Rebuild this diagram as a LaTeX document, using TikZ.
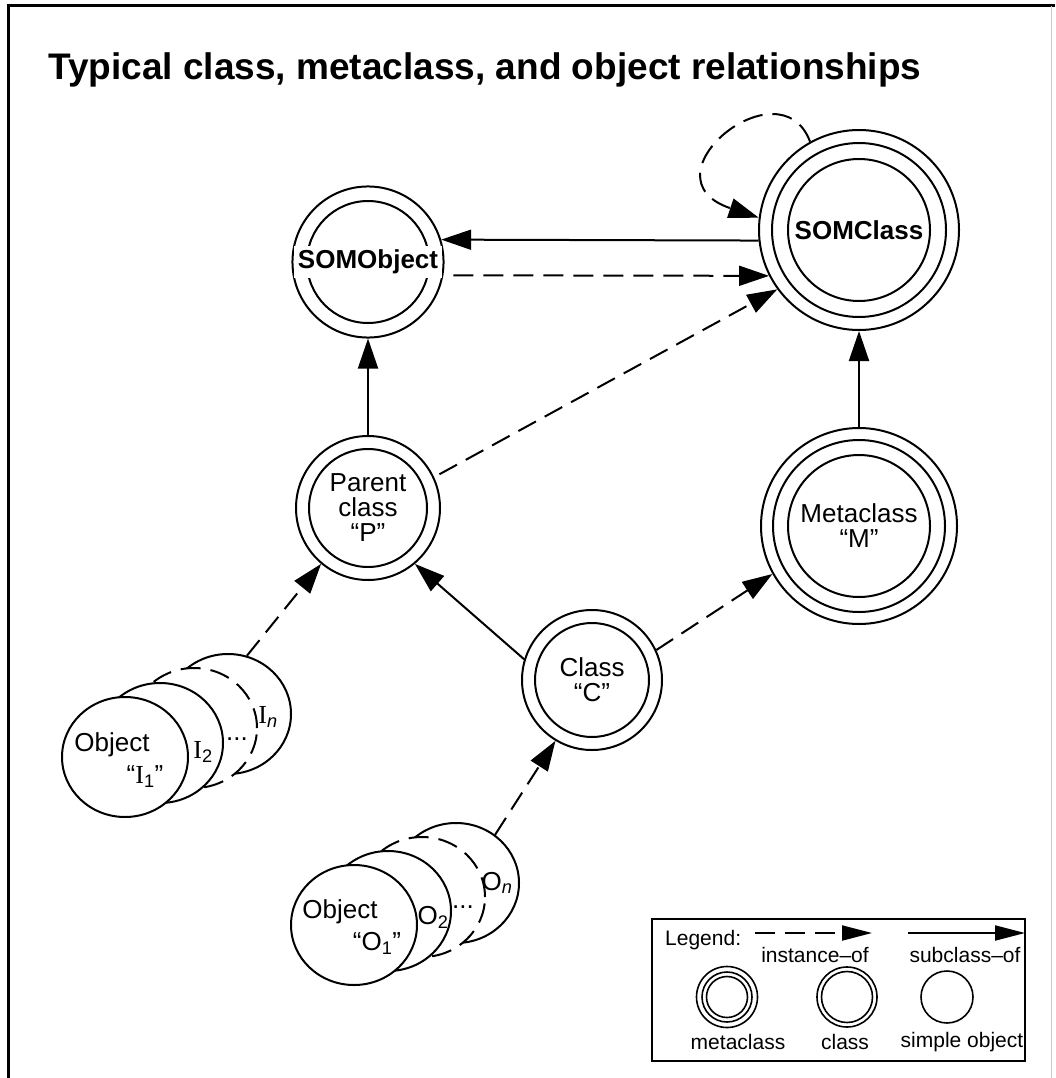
\documentclass[tikz,border=0pt]{standalone}
\usepackage{fontspec}
\setmainfont{Liberation Sans}
\newfontfamily\timesfont{Liberation Serif}
\usetikzlibrary{positioning,arrows.meta,shapes.geometric}

\newcommand{\wbox}[1]{{\setlength{\fboxsep}{4pt}\colorbox{white}{#1}}}
\newcommand{\romI}{{\timesfont I}}

\begin{document}
\begin{tikzpicture}[x=1pt,y=-1pt,
  every node/.style={font=\fontsize{26}{25}\selectfont, align=center, inner sep=0pt},
  metacl/.style n args={3}{circle, draw, line width=2pt, minimum size=#1,
    path picture={\draw (path picture bounding box.center) circle (#2) circle (#3);}},
  cl/.style n args={2}{circle, draw, line width=2pt, minimum size=#1,
    path picture={\draw (path picture bounding box.center) circle (#2);}},
  obj/.style={ellipse, draw, fill=white, line width=2pt, minimum width=126pt, minimum height=120pt},
  objdash/.style={obj, dash pattern=on 20pt off 10pt},
  inst/.style={line width=2pt, dash pattern=on 20pt off 10pt, -{Triangle[length=30pt,width=20pt]}},
  subcl/.style={line width=2pt, -{Triangle[length=30pt,width=20pt]}},
  leg/.style={font=\fontsize{21}{21}\selectfont},
  ]

  \useasboundingbox (0,0) rectangle (1055,1078);
  \draw[line width=3pt] (8,1078) -- (8,6) -- (1055,6);
  \draw[gray!40, line width=1pt] (1051,6) -- (1051,1078);

  \node[anchor=base west, font=\bfseries\fontsize{37}{37}\selectfont] (title) at (48,80)
    {Typical class, metaclass, and object relationships};

  % classes
  \node[metacl={200pt}{87pt}{71pt}] (somclass) at (859,230) {\wbox{\textbf{SOMClass}}};
  \node[cl={148pt}{61pt}] (somobject) at (368,262) {\wbox{\textbf{SOMObject}}};
  \node[cl={144pt}{59pt}] (parent) at (368,508) {Parent\\class\\“P”};
  \node[metacl={196pt}{86pt}{71pt}] (metaclass) at (859,526) {Metaclass\\“M”};
  \node[cl={140pt}{57pt}] (classc) at (592,680) {Class\\“C”};

  % instances of parent class
  \node[obj] (i4) at (228,714) {};
  \node[objdash] (i3) at (194,728) {};
  \node[obj] (i2) at (160,743) {};
  \node[obj] (i1) at (125,757) {};
  \node[] (i1txt) at (112,745) {Object};
  \node[] (i1name) at (145,777) {“\romI\textsubscript{1}”};
  \node[] (i2txt) at (203,752) {\romI\textsubscript{2}};
  \node[anchor=base] (idots) at (237,740) {...};
  \node[] (i4txt) at (268,717) {\romI\textsubscript{\textit{n}}};

  % instances of class C
  \node[obj] (o4) at (456,883) {};
  \node[objdash] (o3) at (422,897) {};
  \node[obj] (o2) at (388,911) {};
  \node[obj] (o1) at (354,925) {};
  \node[] (o1txt) at (340,912) {Object};
  \node[] (o1name) at (377,943) {“O\textsubscript{1}”};
  \node[] (o2txt) at (433,917) {O\textsubscript{2}};
  \node[anchor=base] (odots) at (463,908) {...};
  \node[] (o4txt) at (497,883) {O\textsubscript{\textit{n}}};

  \path[subcl] (parent) edge (somobject);
  \path[subcl] (metaclass) edge (somclass);
  \path[subcl] (somclass.186) edge (somobject.17);
  \path[inst] (somobject.350) edge[shorten <=10pt] (somclass.207);
  \path[inst] (parent.25) edge[shorten <=6pt] (somclass.216);
  \path[subcl] (classc.163) edge (parent.310);
  \path[inst] (classc.25) edge (metaclass.209);
  \path[inst] (i4.72) edge (parent.230);
  \path[inst] (o4.51) edge (classc.239);
  \draw[inst] (somclass.119) .. controls +(-30,-80) and +(-120,-40) .. (somclass.173);

  % legend
  \draw[line width=2.5pt] (652,919) rectangle (1025,1061);
  \node[leg, anchor=west] (legtitle) at (665,940) {Legend:};
  \coordinate (insta) at (755,933);
  \coordinate (instb) at (872,933);
  \coordinate (suba) at (908,933);
  \coordinate (subb) at (1025,933);
  \path[inst, -{Triangle[length=30pt,width=15pt]}] (insta) edge (instb);
  \path[subcl, -{Triangle[length=30pt,width=15pt]}] (suba) edge (subb);
  \node[leg] (instlbl) at (815,955) {instance–of};
  \node[leg] (sublbl) at (965,955) {subclass–of};
  \node[metacl={61pt}{25pt}{20.5pt}, line width=1.6pt] (legmeta) at (727,997) {};
  \node[cl={60pt}{25.5pt}, line width=1.6pt] (legclass) at (847,997) {};
  \node[circle, draw, line width=1.6pt, minimum size=52pt] (legobj) at (947,997) {};
  \node[leg] (legmetalbl) at (738,1042) {metaclass};
  \node[leg] (legclasslbl) at (845,1042) {class};
  \node[leg] (legobjlbl) at (962,1042) {simple object};

\end{tikzpicture}
\end{document}
